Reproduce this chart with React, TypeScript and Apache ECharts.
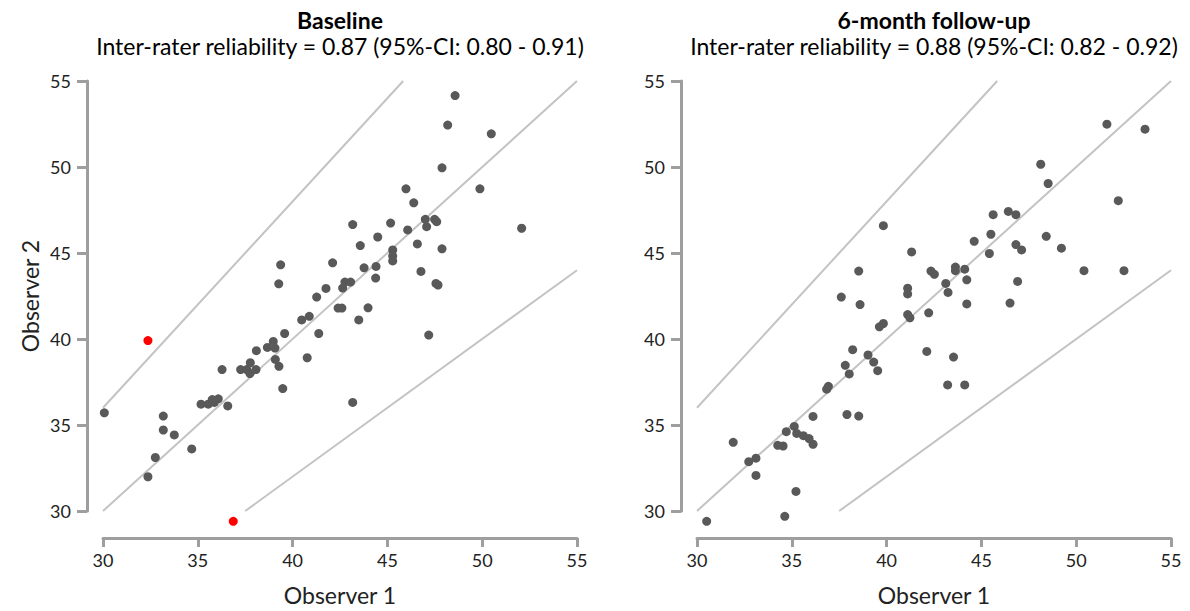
import React, { useEffect, useRef } from "react";
import * as echarts from "echarts";

// Baseline panel: [Observer 1, Observer 2]
const baselinePoints: number[][] = [
  [48.57, 54.15], [48.18, 52.44], [50.48, 51.93], [47.88, 49.95], [45.98, 48.73],
  [49.88, 48.73], [46.39, 47.92], [43.17, 46.65], [45.17, 46.74], [47.49, 46.96],
  [47.6, 46.82], [47.0, 46.96], [47.07, 46.53], [52.08, 46.44], [46.07, 46.34],
  [44.49, 45.93], [43.57, 45.43], [46.58, 45.53], [47.88, 45.24], [45.28, 45.18],
  [45.28, 44.83], [45.28, 44.54], [42.11, 44.43], [43.77, 44.14], [44.4, 44.22],
  [44.38, 43.54], [46.77, 43.93], [47.56, 43.23], [47.67, 43.14], [42.76, 43.31],
  [43.06, 43.31], [42.64, 42.96], [39.37, 44.31], [39.27, 43.21], [41.76, 42.94],
  [41.27, 42.44], [42.4, 41.8], [42.6, 41.8], [43.98, 41.81], [43.49, 41.11],
  [47.18, 40.23], [43.17, 36.31], [30.07, 35.71], [33.18, 35.52], [33.18, 34.71],
  [33.76, 34.42], [34.68, 33.61], [32.76, 33.11], [32.37, 31.99], [35.17, 36.21],
  [35.55, 36.21], [35.76, 36.48], [36.08, 36.52], [35.87, 36.31], [36.58, 36.11],
  [36.28, 38.22], [37.26, 38.22], [37.58, 38.22], [37.75, 37.99], [38.07, 38.22],
  [37.77, 38.62], [38.09, 39.32], [38.67, 39.51], [38.98, 39.86], [39.07, 39.47],
  [39.09, 38.81], [39.28, 38.41], [39.48, 37.12], [39.58, 40.32], [40.48, 41.11],
  [40.88, 41.32], [41.38, 40.32], [40.77, 38.91],
];
const baselineOutliers: number[][] = [
  [32.37, 39.91], [36.87, 29.4],
];

// 6-month follow-up panel
const followUpPoints: number[][] = [
  [39.83, 46.59], [41.32, 45.06], [38.53, 43.95], [42.34, 43.95], [42.52, 43.76],
  [41.11, 42.95], [41.11, 42.62], [37.61, 42.44], [38.6, 42.0], [51.62, 52.49],
  [53.63, 52.2], [48.13, 50.16], [48.52, 49.04], [52.22, 48.04], [45.62, 47.23],
  [46.42, 47.42], [46.82, 47.23], [45.5, 46.09], [44.62, 45.68], [48.42, 45.97],
  [49.22, 45.28], [46.82, 45.49], [47.12, 45.18], [45.42, 44.97], [50.41, 43.97],
  [52.52, 43.97], [43.63, 44.18], [43.63, 43.97], [44.12, 44.06], [44.23, 43.44],
  [46.91, 43.35], [43.12, 43.23], [43.24, 42.71], [44.23, 42.04], [46.51, 42.09],
  [41.11, 41.42], [41.23, 41.23], [42.22, 41.52], [42.12, 39.28], [39.62, 40.71],
  [39.83, 40.9], [38.21, 39.38], [39.02, 39.07], [39.32, 38.66], [37.82, 38.47],
  [39.53, 38.16], [38.03, 37.97], [36.84, 37.08], [36.93, 37.25], [36.12, 35.5],
  [37.91, 35.61], [38.53, 35.52], [35.13, 34.92], [35.26, 34.51], [35.61, 34.38],
  [35.91, 34.21], [36.12, 33.88], [34.71, 34.61], [34.26, 33.82], [34.54, 33.78],
  [31.91, 33.99], [32.73, 32.87], [33.11, 33.07], [33.11, 32.07], [35.22, 31.14],
  [34.63, 29.69], [30.51, 29.4], [43.53, 38.95], [43.22, 37.33], [44.12, 37.33],
];

// Reference lines (identity, +20%, -20%)
const identityLine: number[][] = [[30, 30], [55, 55]];
const upperLine: number[][] = [[30, 36], [45.833, 55]];
const lowerLine: number[][] = [[37.5, 30], [55, 44]];

const tickMin = 30;
const tickMax = 55;
const tickInterval = 5;
const titles = ["Baseline", "6-month follow-up"];
const subtitles = [
  "Inter-rater reliability = 0.87 (95%-CI: 0.80 - 0.91)",
  "Inter-rater reliability = 0.88 (95%-CI: 0.82 - 0.92)",
];

const FONT = "Lato, 'Open Sans', sans-serif";
const AXIS_COLOR = "#9e9e9e";
const AXIS_WIDTH = 3;

export default function App() {
  const ref = useRef<HTMLDivElement>(null);
  useEffect(() => {
    if (!ref.current) return;
    const chart = echarts.init(ref.current, undefined, { renderer: "svg" });

    const makeX = (i: number) => ({
      type: "value",
      gridIndex: i,
      min: tickMin,
      max: tickMax,
      interval: tickInterval,
      offset: 27,
      splitLine: { show: false },
      axisLine: { show: true, onZero: false, lineStyle: { color: AXIS_COLOR, width: AXIS_WIDTH } },
      axisTick: { show: true, length: 9, lineStyle: { color: AXIS_COLOR, width: AXIS_WIDTH } },
      axisLabel: { color: "#222", fontSize: 18, fontFamily: FONT, margin: 13 },
      name: "Observer 1",
      nameLocation: "middle",
      nameGap: 45,
      nameTextStyle: { color: "#222", fontSize: 23, fontFamily: FONT },
    });
    const makeY = (i: number) => ({
      type: "value",
      gridIndex: i,
      min: tickMin,
      max: tickMax,
      interval: tickInterval,
      offset: 16,
      splitLine: { show: false },
      axisLine: { show: true, onZero: false, lineStyle: { color: AXIS_COLOR, width: AXIS_WIDTH } },
      axisTick: { show: true, length: 10, lineStyle: { color: AXIS_COLOR, width: AXIS_WIDTH } },
      axisLabel: { color: "#222", fontSize: 18, fontFamily: FONT, margin: 16 },
      name: i === 0 ? "Observer 2" : "",
      nameLocation: "middle",
      nameGap: 46,
      nameTextStyle: { color: "#222", fontSize: 23, fontFamily: FONT },
    });
    const lineSeries = (idx: number, data: number[][]) => ({
      type: "line",
      xAxisIndex: idx,
      yAxisIndex: idx,
      data,
      symbol: "none",
      silent: true,
      lineStyle: { color: "#c3c3c3", width: 2 },
      z: 1,
    });
    const scatter = (idx: number, data: number[][], color: string) => ({
      type: "scatter",
      xAxisIndex: idx,
      yAxisIndex: idx,
      data,
      clip: false,
      symbolSize: 9,
      itemStyle: { color, opacity: 1 },
      z: 3,
    });
    const centers = [340, 934];
    const titleList: any[] = [];
    [0, 1].forEach((i) => {
      titleList.push({
        text: titles[i],
        left: centers[i],
        textAlign: "center",
        top: 8,
        padding: 0,
        textStyle: { fontSize: 23, fontWeight: "bold", color: "#000", fontFamily: FONT },
      });
      titleList.push({
        text: subtitles[i],
        left: centers[i],
        textAlign: "center",
        top: 34,
        padding: 0,
        textStyle: { fontSize: 23, fontWeight: "normal", color: "#000", fontFamily: FONT },
      });
    });
    chart.setOption({
      animation: false,
      title: titleList,
      grid: [
        { left: 103, right: 613, top: 81, bottom: 98 },
        { left: 697, right: 19, top: 81, bottom: 98 },
      ],
      xAxis: [makeX(0), makeX(1)],
      yAxis: [makeY(0), makeY(1)],
      series: [
        lineSeries(0, identityLine),
        lineSeries(0, upperLine),
        lineSeries(0, lowerLine),
        lineSeries(1, identityLine),
        lineSeries(1, upperLine),
        lineSeries(1, lowerLine),
        scatter(0, baselinePoints, "#595959"),
        scatter(0, baselineOutliers, "#ff0000"),
        scatter(1, followUpPoints, "#595959"),
      ],
    });
    return () => chart.dispose();
  }, []);
  return (
    <div
      ref={ref}
      style={{ position: "absolute", left: 0, top: 0, width: 1190, height: 611, background: "#fff" }}
    />
  );
}
